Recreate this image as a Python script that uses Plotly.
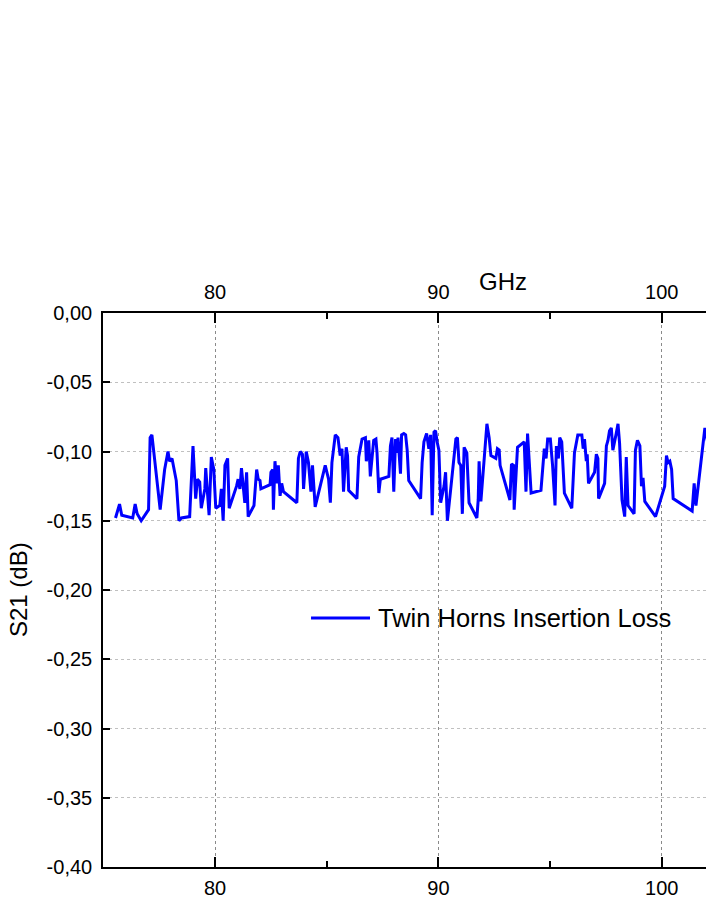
import plotly.graph_objects as go

# Frequency (GHz) and S21 (dB)
freq = [
    75.54, 75.72, 75.82, 76.31, 76.42, 76.51, 76.69, 77.02, 77.09, 77.17,
    77.54, 77.74, 77.89, 77.96, 78.07, 78.26, 78.38, 78.49, 78.86, 79.01,
    79.13, 79.21, 79.31, 79.38, 79.54, 79.58, 79.73, 79.83, 79.94, 80.03,
    80.21, 80.28, 80.36, 80.44, 80.56,
    80.63, 80.96, 81.03, 81.11, 81.18, 81.33, 81.41, 81.48, 81.74, 81.86,
    81.93, 82.01, 82.05, 82.46, 82.50, 82.58, 82.61, 82.68, 82.76, 82.83,
    82.91, 82.98, 83.06, 83.66, 83.73, 83.81, 83.91, 83.96, 84.08, 84.18,
    84.29, 84.36, 84.48, 84.93, 85.08, 85.16, 85.23, 85.38, 85.50, 85.60,
    85.68, 85.75, 85.87, 85.93,
    85.98, 86.35, 86.43, 86.58, 86.73, 86.77, 86.88, 86.95, 87.10, 87.20,
    87.25, 87.33, 87.40, 87.78, 87.85, 87.92, 88.00, 88.08, 88.15, 88.19,
    88.30, 88.35, 88.45, 88.53, 88.60, 88.67, 89.20, 89.27, 89.35, 89.47,
    89.57, 89.65, 89.72, 89.80, 89.87, 89.94, 90.02, 90.10, 90.25, 90.32,
    90.40, 90.55, 90.70, 90.78, 90.85, 90.92, 91.00, 91.07,
    91.15, 91.27, 91.37, 91.72, 91.78, 91.82, 91.90, 91.97, 92.17, 92.27,
    92.35, 92.57, 92.64, 92.72, 92.76, 93.20, 93.27, 93.36, 93.39, 93.54,
    93.84, 93.92, 93.99, 94.15, 94.59, 94.74, 94.82, 94.89, 95.01, 95.11,
    95.22, 95.28, 95.37, 95.43, 95.52, 95.64, 95.97, 96.09, 96.24, 96.42,
    96.48,
    96.54, 96.62, 96.66, 96.72, 96.99, 97.07, 97.14, 97.17, 97.44, 97.52,
    97.59, 97.66, 97.74, 97.81, 97.96, 98.04, 98.11, 98.22, 98.34, 98.41,
    98.49, 98.76, 98.82, 98.91, 99.02, 99.09, 99.16, 99.24, 99.72, 100.13,
    100.21, 100.28, 100.36, 100.44, 100.51, 101.36, 101.45, 101.53, 101.93, 102.05,
    102.2,
]

s21 = [
    -0.148, -0.138, -0.146, -0.148, -0.138, -0.145, -0.150, -0.142, -0.090, -0.088,
    -0.142, -0.113, -0.100, -0.107, -0.105, -0.121, -0.150, -0.148, -0.147, -0.096,
    -0.134, -0.120, -0.122, -0.141, -0.127, -0.112, -0.146, -0.104, -0.113, -0.141,
    -0.139, -0.127, -0.150, -0.110, -0.105,
    -0.141, -0.125, -0.120, -0.127, -0.112, -0.137, -0.115, -0.147, -0.139, -0.113,
    -0.120, -0.121, -0.127, -0.124, -0.115, -0.113, -0.142, -0.107, -0.123, -0.110,
    -0.132, -0.123, -0.129, -0.137, -0.105, -0.100, -0.102, -0.127, -0.100, -0.108,
    -0.129, -0.110, -0.140, -0.110, -0.120, -0.137, -0.108, -0.088, -0.090, -0.103,
    -0.098, -0.129, -0.097, -0.103,
    -0.128, -0.134, -0.104, -0.091, -0.090, -0.107, -0.092, -0.118, -0.092, -0.091,
    -0.101, -0.130, -0.120, -0.118, -0.096, -0.090, -0.129, -0.091, -0.101, -0.090,
    -0.116, -0.088, -0.087, -0.088, -0.099, -0.121, -0.134, -0.108, -0.093, -0.087,
    -0.098, -0.088, -0.146, -0.086, -0.085, -0.093, -0.099, -0.137, -0.125, -0.115,
    -0.150, -0.127, -0.101, -0.091, -0.090, -0.108, -0.110, -0.145,
    -0.097, -0.101, -0.137, -0.148, -0.135, -0.107, -0.136, -0.120, -0.080, -0.090,
    -0.103, -0.105, -0.098, -0.099, -0.110, -0.135, -0.109, -0.110, -0.142, -0.097,
    -0.093, -0.129, -0.087, -0.130, -0.128, -0.098, -0.105, -0.091, -0.091, -0.110,
    -0.139, -0.096, -0.105, -0.090, -0.093, -0.130, -0.141, -0.101, -0.088, -0.088,
    -0.098,
    -0.091, -0.107, -0.102, -0.123, -0.115, -0.102, -0.105, -0.134, -0.123, -0.096,
    -0.092, -0.085, -0.083, -0.099, -0.087, -0.080, -0.094, -0.135, -0.147, -0.104,
    -0.139, -0.145, -0.099, -0.092, -0.096, -0.125, -0.119, -0.136, -0.147, -0.125,
    -0.103, -0.108, -0.107, -0.113, -0.134, -0.143, -0.123, -0.139, -0.083, -0.093,
    -0.100,
]
assert len(freq) == len(s21)

y_tick_vals = [0.0, -0.05, -0.10, -0.15, -0.20, -0.25, -0.30, -0.35, -0.40]
y_tick_text = ["0,00", "-0,05", "-0,10", "-0,15", "-0,20", "-0,25", "-0,30", "-0,35", "-0,40"]

series_name = "Twin Horns Insertion Loss"
x_title = "GHz"
y_title = "S21 (dB)"
x_range = [74.98, 101.98]
y_range = [-0.40, 0.0]

FONT = "Liberation Sans, Arial, sans-serif"
BLUE = "#0000FF"

fig = go.Figure()
fig.add_trace(go.Scatter(
    x=freq, y=s21, mode="lines", name=series_name,
    line=dict(color=BLUE, width=3), showlegend=False,
))
# invisible trace so the top axis is drawn
fig.add_trace(go.Scatter(
    x=[freq[0]], y=[s21[0]], xaxis="x2", mode="lines",
    line=dict(width=0), hoverinfo="skip", showlegend=False,
))

axis_common = dict(
    range=x_range, dtick=10, tick0=0,
    ticks="inside", ticklen=10, tickwidth=2, tickcolor="black",
    showline=True, linecolor="black", linewidth=1.6,
    tickfont=dict(family=FONT, size=20, color="black"),
    zeroline=False,
    minor=dict(dtick=5, ticks="inside", ticklen=6, tickwidth=1.6,
               tickcolor="black", showgrid=False),
)

fig.update_layout(
    width=706, height=913,
    margin=dict(l=103, r=0, t=313, b=46, pad=0),
    paper_bgcolor="white", plot_bgcolor="white",
    font=dict(family=FONT, color="black"),
    xaxis=dict(
        **axis_common, side="bottom",
        showgrid=True, gridcolor="#8a8a8a", griddash="dot", gridwidth=1,
        ticklabelstandoff=2,
    ),
    xaxis2=dict(
        **axis_common, side="top", overlaying="x", matches="x",
        showgrid=False, ticklabelstandoff=4,
    ),
    yaxis=dict(
        range=y_range, tickmode="array", tickvals=y_tick_vals, ticktext=y_tick_text,
        ticks="inside", ticklen=7, tickwidth=2, tickcolor="black",
        showline=True, linecolor="black", linewidth=1.6,
        tickfont=dict(family=FONT, size=20, color="black"),
        showgrid=True, gridcolor="#c0c0c0", griddash="dot", gridwidth=1,
        zeroline=False, ticklabelstandoff=5,
    ),
)

# axis titles
fig.add_annotation(text=x_title, xref="paper", yref="paper", x=0.663, y=1,
                   yshift=32, xanchor="center", yanchor="middle",
                   showarrow=False, font=dict(family=FONT, size=24, color="black"))
fig.add_annotation(text=y_title, xref="paper", yref="paper", x=0, y=0.5,
                   xshift=-85, xanchor="center", yanchor="middle", textangle=-90,
                   showarrow=False, font=dict(family=FONT, size=24, color="black"))

# legend (line sample + label)
leg_y = 0.4495
fig.add_shape(type="line", xref="paper", yref="paper",
              x0=0.345, x1=0.4428, y0=leg_y, y1=leg_y,
              line=dict(color=BLUE, width=2.8))
fig.add_annotation(text=series_name, xref="paper", yref="paper",
                   x=0.452, y=leg_y, xanchor="left", yanchor="middle",
                   showarrow=False, font=dict(family=FONT, size=25.5, color="black"))

fig.write_html(
    "out.html",
    config={"displayModeBar": False},
    post_script="document.body.style.margin='0';document.body.style.overflow='hidden';",
)
